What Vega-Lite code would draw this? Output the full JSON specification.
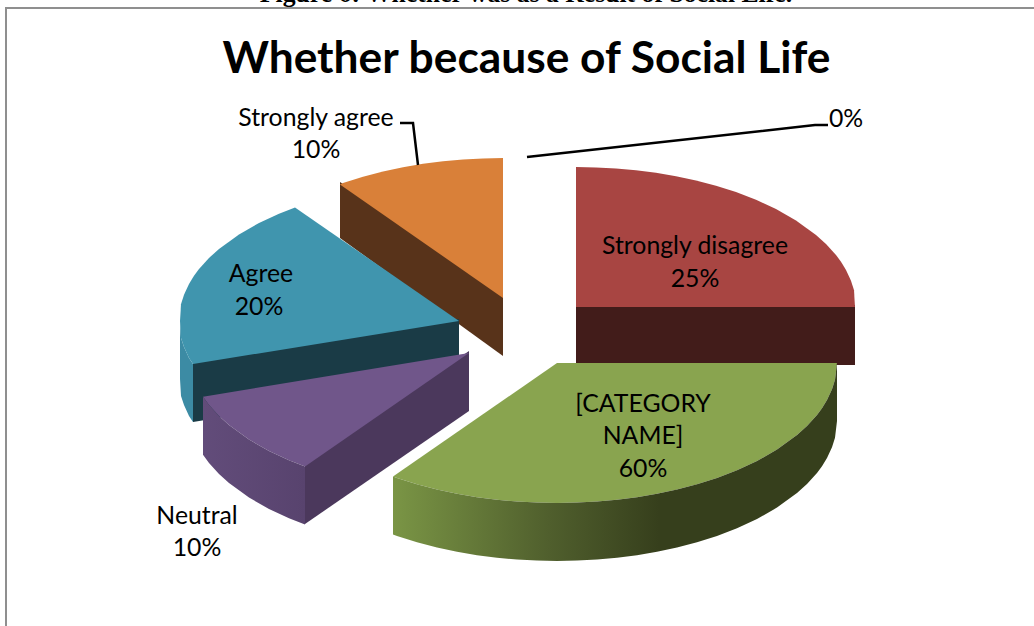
{
  "$schema": "https://vega.github.io/schema/vega-lite/v6.json",
  "width": 1034,
  "height": 626,
  "autosize": "none",
  "padding": 0,
  "background": "#ffffff",
  "view": {"stroke": null},
  "title": {"text": "Whether because of Social Life", "font": "Lato", "fontWeight": "bold", "fontSize": 44.3, "color": "#000000", "anchor": "middle", "offset": 0, "dx": 9.5, "dy": 82},
  "projection": {"type": "identity", "scale": 1, "translate": [0, 0]},
  "datasets": {
    "faces": [
      {"type": "Feature", "properties": {"category": "Strongly agree", "value": 0.10, "face": "orange side"}, "geometry": {"type": "Polygon", "coordinates": [[[340,182],[503,292],[503,356],[340,238],[340,182]]]}},
      {"type": "Feature", "properties": {"category": "Strongly agree", "value": 0.10, "face": "orange top"}, "geometry": {"type": "Polygon", "coordinates": [[[503,158],[483,158.4],[463,159.4],[443,161.3],[423,163.8],[403,167.2],[383,171.5],[363,176.8],[343,183.1],[340,184.5],[503,298],[503,158]]]}},
      {"type": "Feature", "properties": {"category": "Agree", "value": 0.20, "face": "teal outer"}, "geometry": {"type": "Polygon", "coordinates": [[[180,321],[181,338],[184,347],[189,358],[193,364],[193,422],[189,416],[184,405],[181,396],[180,379],[180,321]]]}},
      {"type": "Feature", "properties": {"category": "Agree", "value": 0.20, "face": "teal side"}, "geometry": {"type": "Polygon", "coordinates": [[[193,362],[459,319],[459,379],[193,422],[193,362]]]}},
      {"type": "Feature", "properties": {"category": "Agree", "value": 0.20, "face": "teal top"}, "geometry": {"type": "Polygon", "coordinates": [[[295,207.5],[279,213.8],[259,223],[239,234.4],[219,248.9],[209,258],[199,269],[194,275.8],[189,283.9],[184,294.7],[181,304.3],[180,321],[181,338],[184,347],[189,358],[193,364],[459,321],[295,207.5]]]}},
      {"type": "Feature", "properties": {"category": "Strongly disagree", "value": 0.25, "face": "red side"}, "geometry": {"type": "Polygon", "coordinates": [[[576,305],[855,305],[855,365],[576,365],[576,305]]]}},
      {"type": "Feature", "properties": {"category": "Strongly disagree", "value": 0.25, "face": "red top"}, "geometry": {"type": "Polygon", "coordinates": [[[576,167],[596,167.4],[616,168.4],[636,170.3],[656,172.8],[676,176.2],[696,180.5],[716,185.8],[736,192.1],[756,199.8],[776,209],[796,220.4],[816,234.9],[826,244],[836,255],[841,261.8],[846,269.9],[851,280.7],[854,290.3],[855,307],[576,307],[576,167]]]}},
      {"type": "Feature", "properties": {"category": "Neutral", "value": 0.10, "face": "purple right"}, "geometry": {"type": "Polygon", "coordinates": [[[469,351],[305,464],[305,524],[469,411],[469,351]]]}},
      {"type": "Feature", "properties": {"category": "Neutral", "value": 0.10, "face": "purple top"}, "geometry": {"type": "Polygon", "coordinates": [[[469,353],[203,396.7],[209,405],[219,416],[229,425.1],[249,439.6],[269,451],[289,460.2],[305,466.5],[469,353]]]}},
      {"type": "Feature", "properties": {"category": "[CATEGORY NAME]", "value": 0.60, "face": "green top"}, "geometry": {"type": "Polygon", "coordinates": [[[557,363],[837,363],[835,379.7],[832,389.3],[827,400.1],[822,408.2],[817,415],[807,426],[797,435.1],[777,449.6],[757,461],[737,470.2],[717,477.9],[697,484.2],[677,489.5],[657,493.8],[637,497.2],[617,499.7],[597,501.6],[577,502.6],[557,503],[537,502.6],[517,501.6],[497,499.7],[477,497.2],[457,493.8],[437,489.5],[417,484.2],[397,477.9],[393,476.5],[557,363]]]}}
    ],
    "purpleOuter": [
      {"type": "Feature", "properties": {"category": "Neutral", "value": 0.10, "face": "purple outer"}, "geometry": {"type": "Polygon", "coordinates": [[[203,396.7],[209,405],[219,416],[229,425.1],[249,439.6],[269,451],[289,460.2],[305,466.5],[305,524.5],[289,518.2],[269,509],[249,497.6],[229,483.1],[219,474],[209,463],[203,454.7],[203,396.7]]]}}
    ],
    "greenOuter": [
      {"type": "Feature", "properties": {"category": "[CATEGORY NAME]", "value": 0.60, "face": "green outer"}, "geometry": {"type": "Polygon", "coordinates": [[[393,476.5],[397,477.9],[417,484.2],[437,489.5],[457,493.8],[477,497.2],[497,499.7],[517,501.6],[537,502.6],[557,503],[577,502.6],[597,501.6],[617,499.7],[637,497.2],[657,493.8],[677,489.5],[697,484.2],[717,477.9],[737,470.2],[757,461],[777,449.6],[797,435.1],[807,426],[817,415],[822,408.2],[827,400.1],[832,389.3],[835,379.7],[837,363],[837,421],[835,437.7],[832,447.3],[827,458.1],[822,466.2],[817,473],[807,484],[797,493.1],[777,507.6],[757,519],[737,528.2],[717,535.9],[697,542.2],[677,547.5],[657,551.8],[637,555.2],[617,557.7],[597,559.6],[577,560.6],[557,561],[537,560.6],[517,559.6],[497,557.7],[477,555.2],[457,551.8],[437,547.5],[417,542.2],[397,535.9],[393,534.5],[393,476.5]]]}}
    ],
    "leaders": [
      {"type": "Feature", "properties": {"category": "Strongly agree"}, "geometry": {"type": "LineString", "coordinates": [[400,123],[413,123],[418,165]]}},
      {"type": "Feature", "properties": {"category": "Zero share"}, "geometry": {"type": "LineString", "coordinates": [[527,157],[815,125],[828,125]]}}
    ],
    "frame": [
      {"type": "Feature", "properties": {"name": "chart border"}, "geometry": {"type": "LineString", "coordinates": [[6,626],[6,8],[1034,8]]}}
    ],
    "labels": [
      {"category": "Strongly disagree", "value": 0.25, "nameLon": 695, "nameLat": 254, "pctLon": 695, "pctLat": 287},
      {"category": "[CATEGORY\nNAME]", "value": 0.60, "nameLon": 643, "nameLat": 412, "pctLon": 643, "pctLat": 477},
      {"category": "Neutral", "value": 0.10, "nameLon": 197, "nameLat": 524, "pctLon": 197, "pctLat": 556},
      {"category": "Agree", "value": 0.20, "nameLon": 261, "nameLat": 282, "pctLon": 259, "pctLat": 315},
      {"category": "Strongly agree", "value": 0.10, "nameLon": 316, "nameLat": 126, "pctLon": 316, "pctLat": 158},
      {"category": "", "value": 0.00, "nameLon": 846, "nameLat": 126, "pctLon": 846, "pctLat": 127}
    ],
    "caption": [
      {"text": "Figure 6: Whether was as a Result of Social Life.", "lon": 526, "lat": 2}
    ]
  },
  "layer": [
    {
      "data": {"name": "frame"},
      "mark": {"type": "geoshape", "filled": false, "stroke": "#8f8f8f", "strokeWidth": 2}
    },
    {
      "data": {"name": "caption"},
      "mark": {"type": "text", "font": "Liberation Serif", "fontWeight": "bold", "fontSize": 25.7, "color": "#000000", "align": "center", "baseline": "alphabetic"},
      "encoding": {
        "longitude": {"field": "lon", "type": "quantitative"},
        "latitude": {"field": "lat", "type": "quantitative"},
        "text": {"field": "text"}
      }
    },
    {
      "data": {"name": "faces"},
      "mark": {"type": "geoshape", "strokeWidth": 0},
      "encoding": {
        "fill": {
          "field": "properties.face",
          "type": "nominal",
          "legend": null,
          "sort": null,
          "scale": {
            "domain": ["orange side", "orange top", "teal outer", "teal side", "teal top", "red side", "red top", "purple right", "purple top", "green top"],
            "range": ["#58331a", "#d98039", "#3c8ba4", "#1a3b46", "#4095ae", "#421c1a", "#a84542", "#4b385c", "#70568a", "#89a44f"]
          }
        }
      }
    },
    {
      "data": {"name": "purpleOuter"},
      "mark": {
        "type": "geoshape",
        "strokeWidth": 0,
        "fill": {"gradient": "linear", "x1": 0, "x2": 1, "y1": 0, "y2": 0, "stops": [{"offset": 0, "color": "#624c7a"}, {"offset": 1, "color": "#58436e"}]}
      }
    },
    {
      "data": {"name": "greenOuter"},
      "mark": {
        "type": "geoshape",
        "strokeWidth": 0,
        "fill": {"gradient": "linear", "x1": 0, "x2": 1, "y1": 0, "y2": 0, "stops": [{"offset": 0, "color": "#7a9545"}, {"offset": 0.35, "color": "#505f2d"}, {"offset": 0.6, "color": "#363f1c"}, {"offset": 1, "color": "#363f1c"}]}
      }
    },
    {
      "data": {"name": "leaders"},
      "mark": {"type": "geoshape", "filled": false, "stroke": "#000000", "strokeWidth": 2.5}
    },
    {
      "data": {"name": "labels"},
      "mark": {"type": "text", "font": "Lato", "fontSize": 24.8, "color": "#000000", "align": "center", "baseline": "alphabetic", "lineBreak": "\n", "lineHeight": 32},
      "encoding": {
        "longitude": {"field": "nameLon", "type": "quantitative"},
        "latitude": {"field": "nameLat", "type": "quantitative"},
        "text": {"field": "category"}
      }
    },
    {
      "data": {"name": "labels"},
      "mark": {"type": "text", "font": "Lato", "fontSize": 24.8, "color": "#000000", "align": "center", "baseline": "alphabetic"},
      "encoding": {
        "longitude": {"field": "pctLon", "type": "quantitative"},
        "latitude": {"field": "pctLat", "type": "quantitative"},
        "text": {"field": "value", "type": "quantitative", "format": ".0%"}
      }
    }
  ]
}
